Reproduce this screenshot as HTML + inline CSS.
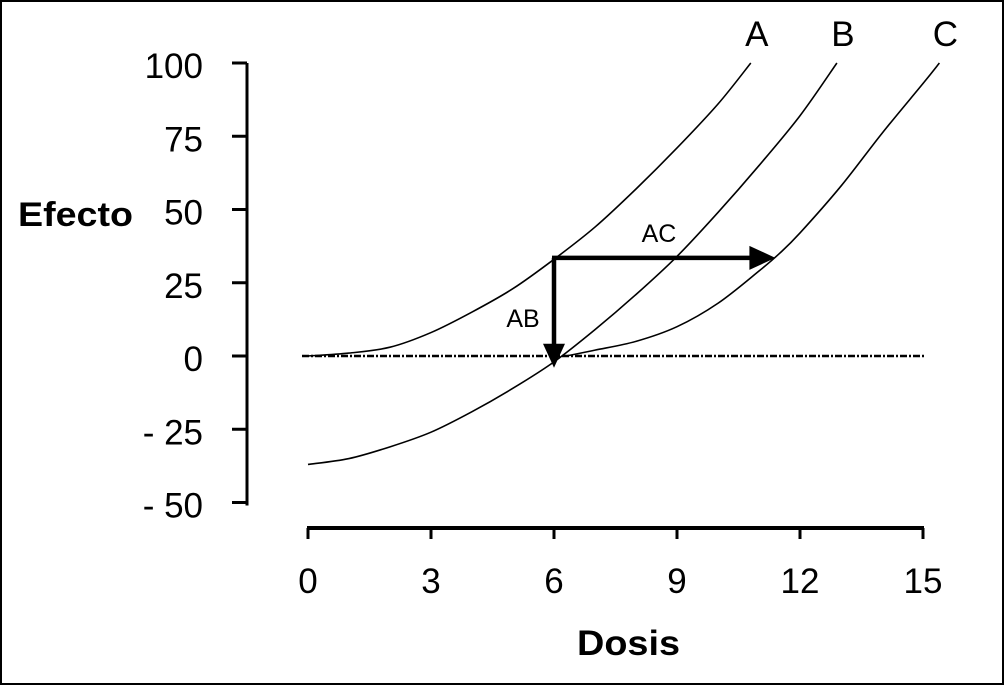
<!DOCTYPE html>
<html><head><meta charset="utf-8"><style>
html,body{margin:0;padding:0;background:#fff}
svg{display:block}
text{font-family:"Liberation Sans",Arial,sans-serif;fill:#000}
</style></head><body>
<svg id="chart" width="1005" height="686" viewBox="0 0 1005 686">
<rect x="1" y="1" width="1002" height="683" fill="#fff" stroke="#000" stroke-width="2"/>
<g id="axes"></g>
<g id="curves"></g>
<g id="annot"></g>
</svg>
<script>
const xTicks=[0,3,6,9,12,15];
const yTicks=[100,75,50,25,0,-25,-50];
const yTickLabels=["100","75","50","25","0","- 25","- 50"];
const curveNames=["A","B","C"];
const curveAx=[0,1,2,3,4,5,6,7,8,9,10,10.8];
const curveAy=[0,1,3,8,15,23,33,44,57,71,86,100];
const curveBx=[0,1,2,3,4,5,6,7,8,9,10,11,12,12.9];
const curveBy=[-37,-35,-31,-26,-19,-11,-2,9,21,34,49,65,82,100];
const curveCx=[6.3,7,8,9,10,11,11.5,12,13,14,15,15.4];
const curveCy=[0,2,5,10,18,29,35,42,58,76,93,100];
const arrowFrom=[6,33.5];
const arrowABto=[6,-4];
const arrowACto=[11.4,33.5];

const NS="http://www.w3.org/2000/svg";
const X=v=>308+v*41;
const Y=v=>356-v*2.93;
function mk(tag,attrs,parent,txt){const e=document.createElementNS(NS,tag);for(const k in attrs)e.setAttribute(k,attrs[k]);if(txt!==undefined)e.textContent=txt;parent.appendChild(e);return e;}
const axes=document.getElementById('axes'),curves=document.getElementById('curves'),ann=document.getElementById('annot');

let e=mk('line',{x1:247,y1:Y(100),x2:247,y2:Y(-50)+3,stroke:'#000','stroke-width':3},axes);


yTicks.forEach((t,i)=>{
  let tk=mk('line',{x1:232,y1:Y(t),x2:247,y2:Y(t),stroke:'#000','stroke-width':3},axes);
  
  
  let lb=mk('text',{x:203,y:Y(t)+15,'text-anchor':'end','font-size':35},axes,yTickLabels[i]);
  
  
});
e=mk('line',{x1:X(0)-1,y1:528,x2:X(15)+1,y2:528,stroke:'#000','stroke-width':4},axes);


xTicks.forEach(t=>{
  let tk=mk('line',{x1:X(t),y1:528,x2:X(t),y2:539,stroke:'#000','stroke-width':3},axes);
  
  
  let lb=mk('text',{x:X(t),y:593,'text-anchor':'middle','font-size':35},axes,String(t));
  
  
});
e=mk('text',{x:18,y:226,'font-size':34,'font-weight':'bold',textLength:115,lengthAdjust:'spacingAndGlyphs'},axes,'Efecto');


e=mk('text',{x:577,y:655,'font-size':35,'font-weight':'bold',textLength:103,lengthAdjust:'spacingAndGlyphs'},axes,'Dosis');



e=mk('line',{x1:302,y1:Y(0),x2:925,y2:Y(0),stroke:'#000','stroke-width':2.5,'stroke-dasharray':'7 2 2 2'},curves);



function path(xs,ys){let d='';const p=xs.map((x,i)=>[X(x),Y(ys[i])]);d='M'+p[0][0]+','+p[0][1];
  for(let i=0;i<p.length-1;i++){const p0=p[i-1]||p[i],p1=p[i],p2=p[i+1],p3=p[i+2]||p2;
    d+=' C'+(p1[0]+(p2[0]-p0[0])/6)+','+(p1[1]+(p2[1]-p0[1])/6)+' '+(p2[0]-(p3[0]-p1[0])/6)+','+(p2[1]-(p3[1]-p1[1])/6)+' '+p2[0]+','+p2[1];}
  return d;}
const sets=[[curveAx,curveAy],[curveBx,curveBy],[curveCx,curveCy]];
sets.forEach((s,i)=>{
  let p=mk('path',{d:path(s[0],s[1]),fill:'none',stroke:'#000','stroke-width':1.6},curves);
  
  
  const lx=s[0][s[0].length-1];
  let l=mk('text',{x:X(lx)+6,y:46,'text-anchor':'middle','font-size':35},curves,curveNames[i]);
  
  
});

const ax=X(arrowFrom[0]),ay=Y(arrowFrom[1]);
e=mk('line',{x1:ax,y1:ay,x2:X(arrowABto[0]),y2:Y(arrowABto[1])-20,stroke:'#000','stroke-width':4.5},ann);


const bx=X(arrowABto[0]),by=Y(arrowABto[1]);
e=mk('polygon',{points:(bx-11)+','+(by-24)+' '+(bx+11)+','+(by-24)+' '+bx+','+by},ann);


e=mk('line',{x1:ax-2,y1:ay,x2:X(arrowACto[0])-22,y2:Y(arrowACto[1]),stroke:'#000','stroke-width':4.5},ann);


const cx=X(arrowACto[0]),cy=Y(arrowACto[1]);
e=mk('polygon',{points:(cx-26)+','+(cy-12)+' '+(cx-26)+','+(cy+12)+' '+cx+','+cy},ann);


e=mk('text',{x:523,y:327,'text-anchor':'middle','font-size':25},ann,'AB');


e=mk('text',{x:659,y:242,'text-anchor':'middle','font-size':25},ann,'AC');


</script>
</body></html>
